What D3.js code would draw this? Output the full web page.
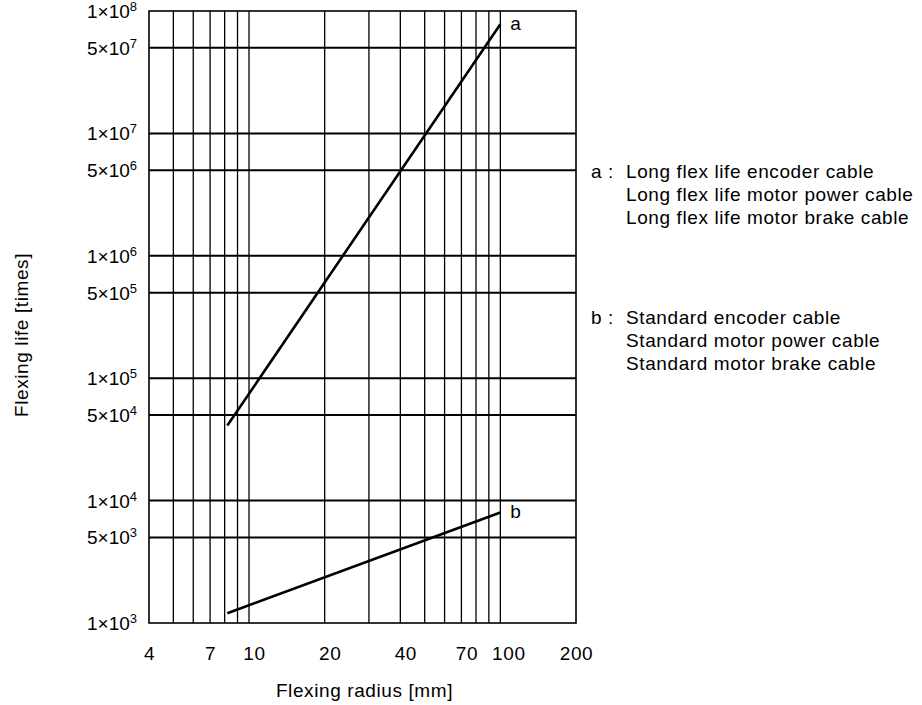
<!DOCTYPE html>
<html>
<head>
<meta charset="utf-8">
<script src="https://cdn.jsdelivr.net/npm/d3@7"></script>
<style>
  html, body { margin: 0; padding: 0; background: #fff; }
  svg { display: block; }
  text { font-family: "Liberation Sans", Arial, sans-serif; fill: #000; }
</style>
</head>
<body>
<svg id="chart" width="922" height="705"></svg>
<script>
// ---- data ----
const xTickValues = [4, 7, 10, 20, 40, 70, 100, 200];
const xGridValues = [5, 6, 7, 8, 9, 10, 20, 30, 40, 50, 60, 70, 80, 90, 100];
const yTickMantissa = [1, 5, 1, 5, 1, 5, 1, 5, 1, 5, 1];
const yTickExponent = [3, 3, 4, 4, 5, 5, 6, 6, 7, 7, 8];
const yGridValues = [5e3, 1e4, 5e4, 1e5, 5e5, 1e6, 5e6, 1e7, 5e7];
const seriesNames = ["a", "b"];
const seriesRadius = [[8.2, 100], [8.2, 100]];
const seriesLife = [[4.1e4, 7.8e7], [1.2e3, 8.0e3]];
const legendKeys = ["a :", "b :"];
const legendLines = [
  ["Long flex life encoder cable", "Long flex life motor power cable", "Long flex life motor brake cable"],
  ["Standard encoder cable", "Standard motor power cable", "Standard motor brake cable"]
];
const xTitle = "Flexing radius [mm]";
const yTitle = "Flexing life [times]";

// ---- layout ----
const svg = d3.select("#chart");
const L = 149, R = 576, T = 11, B = 623;
const fontSize = 19, ls = 0.6;

const x = d3.scaleLog().domain([4, 200]).range([L, R]);
const y = d3.scaleLog().domain([1e3, 1e8]).range([B, T]);

// grid
svg.append("g").selectAll("line").data(xGridValues).join("line")
  .attr("x1", d => x(d)).attr("x2", d => x(d))
  .attr("y1", T).attr("y2", B)
  .attr("stroke", "#000").attr("stroke-width", 1.3);

svg.append("g").selectAll("line").data(yGridValues).join("line")
  .attr("x1", L).attr("x2", R)
  .attr("y1", d => y(d)).attr("y2", d => y(d))
  .attr("stroke", "#000").attr("stroke-width", 2);

// frame
svg.append("rect").attr("x", L).attr("y", T).attr("width", R - L).attr("height", B - T)
  .attr("fill", "none").attr("stroke", "#000").attr("stroke-width", 1.6);

// x axis labels via d3 axis
const xAxis = d3.axisBottom(x).tickValues(xTickValues).tickFormat(d3.format("d")).tickSize(0).tickPadding(0);
const gx = svg.append("g").attr("transform", `translate(0,${B})`).call(xAxis);
gx.select(".domain").remove();
gx.selectAll("text")
  .attr("y", 37).attr("dy", 0)
  .attr("dx", d => (d >= 10 && d < 200) ? (d === 100 ? 8 : 5) : 0)
  .style("font-size", fontSize + "px").style("letter-spacing", ls + "px")
  .style("font-family", "'Liberation Sans', Arial, sans-serif").attr("fill", "#000");

// y labels
const yLab = svg.append("g");
yTickMantissa.forEach((m, i) => {
  const v = m * Math.pow(10, yTickExponent[i]);
  const t = yLab.append("text")
    .attr("x", 137).attr("y", y(v) + 7)
    .attr("text-anchor", "end")
    .style("font-size", fontSize + "px");
  t.append("tspan").text(m + "\u00d710");
  t.append("tspan").attr("dy", -7).style("font-size", "13px").text(yTickExponent[i]);
});

// series lines
const line = d3.line().x(d => x(d[0])).y(d => y(d[1]));
seriesNames.forEach((name, i) => {
  const pts = seriesRadius[i].map((r, j) => [r, seriesLife[i][j]]);
  svg.append("path").attr("d", line(pts))
    .attr("fill", "none").attr("stroke", "#000").attr("stroke-width", 2.6);
  const last = pts[pts.length - 1];
  svg.append("text").attr("x", x(last[0]) + 10).attr("y", y(last[1]) + 6)
    .style("font-size", fontSize + "px").text(name);
});

// legend
const legendY = [178, 324];
legendKeys.forEach((k, i) => {
  svg.append("text").attr("x", 591).attr("y", legendY[i])
    .style("font-size", fontSize + "px").style("letter-spacing", ls + "px").text(k);
  legendLines[i].forEach((s, j) => {
    svg.append("text").attr("x", 626).attr("y", legendY[i] + j * 23)
      .style("font-size", fontSize + "px").style("letter-spacing", ls + "px").text(s);
  });
});

// axis titles
svg.append("text").attr("x", (L + R) / 2 + 2).attr("y", 697)
  .attr("text-anchor", "middle")
  .style("font-size", fontSize + "px").style("letter-spacing", ls + "px").text(xTitle);
svg.append("text").attr("transform", `translate(28,${(T + B) / 2 + 18}) rotate(-90)`)
  .attr("text-anchor", "middle")
  .style("font-size", fontSize + "px").style("letter-spacing", ls + "px").text(yTitle);
</script>
</body>
</html>
